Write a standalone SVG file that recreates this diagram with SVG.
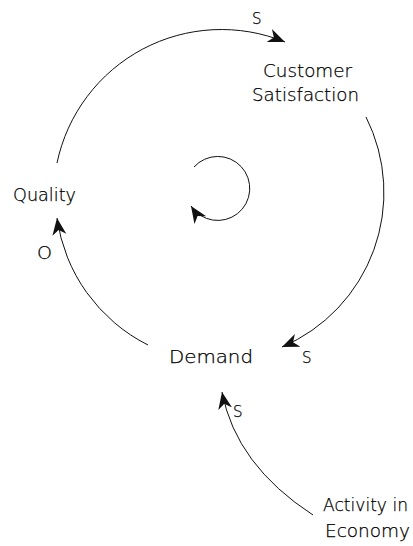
<svg xmlns="http://www.w3.org/2000/svg" width="413" height="546" viewBox="0 0 413 546">
<style>
.lbl{font-family:"DejaVu Sans","Liberation Sans",sans-serif;font-weight:200;font-size:18px;fill:#000;stroke:#000;stroke-width:0.25}
.pol{font-family:"DejaVu Sans","Liberation Sans",sans-serif;font-weight:200;font-size:15px;fill:#000;stroke:#000;stroke-width:0.25}
.lnk{fill:none;stroke:#111;stroke-width:1;marker-end:url(#ah)}
</style>
<defs>
<marker id="ah" markerUnits="userSpaceOnUse" markerWidth="20" markerHeight="16" refX="17" refY="7" orient="auto">
<path d="M0,0 L17,7 L0,14 L5,7 z" fill="#111"/>
</marker>
</defs>
<rect width="413" height="546" fill="#fff"/>
<g id="connectors">
<path class="lnk" d="M57,163 A168,168 0 0 1 285,42"/>
<path class="lnk" d="M366,117 A168,168 0 0 1 282,347"/>
<path class="lnk" d="M148,345 A168,168 0 0 1 57,218"/>
<path class="lnk" d="M313,515 Q236,465 222,392"/>
<path class="lnk" d="M194,167 A32,32 0 1 1 191,206"/>
</g>
<g id="node-customer-satisfaction">
<text class="lbl" x="263" y="77" textLength="89" lengthAdjust="spacingAndGlyphs">Customer</text>
<text class="lbl" x="252" y="101" textLength="107" lengthAdjust="spacingAndGlyphs">Satisfaction</text>
</g>
<g id="node-quality">
<text class="lbl" x="13" y="201" textLength="63" lengthAdjust="spacingAndGlyphs">Quality</text>
</g>
<g id="node-demand">
<text class="lbl" x="169" y="363" textLength="84" lengthAdjust="spacingAndGlyphs">Demand</text>
</g>
<g id="node-activity-in-economy">
<text class="lbl" x="323" y="511" textLength="85" lengthAdjust="spacingAndGlyphs">Activity in</text>
<text class="lbl" x="325" y="537" textLength="85" lengthAdjust="spacingAndGlyphs">Economy</text>
</g>
<g id="polarities">
<text class="pol" x="252" y="24">S</text>
<text class="pol" x="37" y="259" style="font-size:18px" textLength="15" lengthAdjust="spacingAndGlyphs">O</text>
<text class="pol" x="302" y="363">S</text>
<text class="pol" x="233" y="417">S</text>
</g>
</svg>
